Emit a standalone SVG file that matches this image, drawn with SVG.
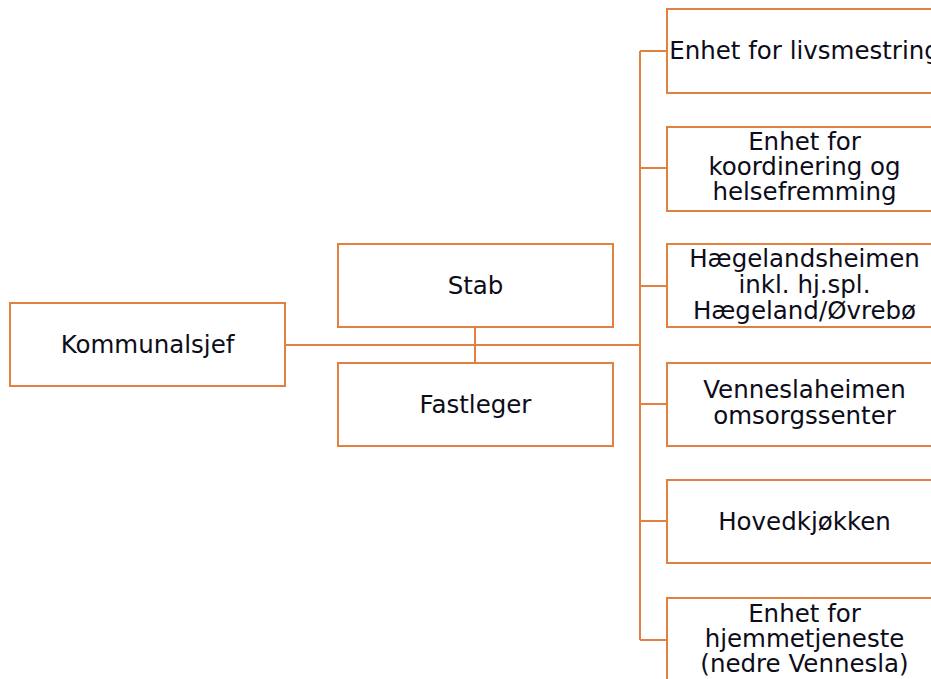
<svg xmlns="http://www.w3.org/2000/svg" width="931" height="679" viewBox="0 0 931 679">
<style>
.box{fill:#fff;stroke:#E2803F;stroke-width:2}
.ln{fill:none;stroke:#E2803F;stroke-width:2}
text{font-family:"DejaVu Sans",Verdana,sans-serif;font-size:24.5px;fill:#0d0d1a;text-anchor:middle}
</style>
<rect width="931" height="679" fill="#fff"/>
<g id="connectors">
<path class="ln" d="M285 345H640M475 327V363M640 51V640M640 51H667M640 168H667M640 286H667M640 404H667M640 521H667M640 640H667"/>
</g>
<g id="kommunalsjef"><rect class="box" x="10" y="303" width="275" height="83"/><text x="147.5" y="353">Kommunalsjef</text></g>
<g id="stab"><rect class="box" x="338" y="244" width="275" height="83"/><text x="475.5" y="294">Stab</text></g>
<g id="fastleger"><rect class="box" x="338" y="363" width="275" height="83"/><text x="475.5" y="413">Fastleger</text></g>
<g id="livsmestring"><rect class="box" x="667" y="9" width="275" height="84"/><text x="804.5" y="59">Enhet for livsmestring</text></g>
<g id="koordinering"><rect class="box" x="667" y="127" width="275" height="84"/><text x="804.5" y="150">Enhet for</text><text x="804.5" y="175">koordinering og</text><text x="804.5" y="200">helsefremming</text></g>
<g id="haegelandsheimen"><rect class="box" x="667" y="244" width="275" height="83"/><text x="804.5" y="267">Hægelandsheimen</text><text x="804.5" y="293">inkl. hj.spl.</text><text x="804.5" y="319">Hægeland/Øvrebø</text></g>
<g id="venneslaheimen"><rect class="box" x="667" y="363" width="275" height="83"/><text x="804.5" y="398">Venneslaheimen</text><text x="804.5" y="424">omsorgssenter</text></g>
<g id="hovedkjokken"><rect class="box" x="667" y="480" width="275" height="83"/><text x="804.5" y="530">Hovedkjøkken</text></g>
<g id="hjemmetjeneste"><rect class="box" x="667" y="598" width="275" height="90"/><text x="804.5" y="622">Enhet for</text><text x="804.5" y="647">hjemmetjeneste</text><text x="804.5" y="672">(nedre Vennesla)</text></g>
</svg>
